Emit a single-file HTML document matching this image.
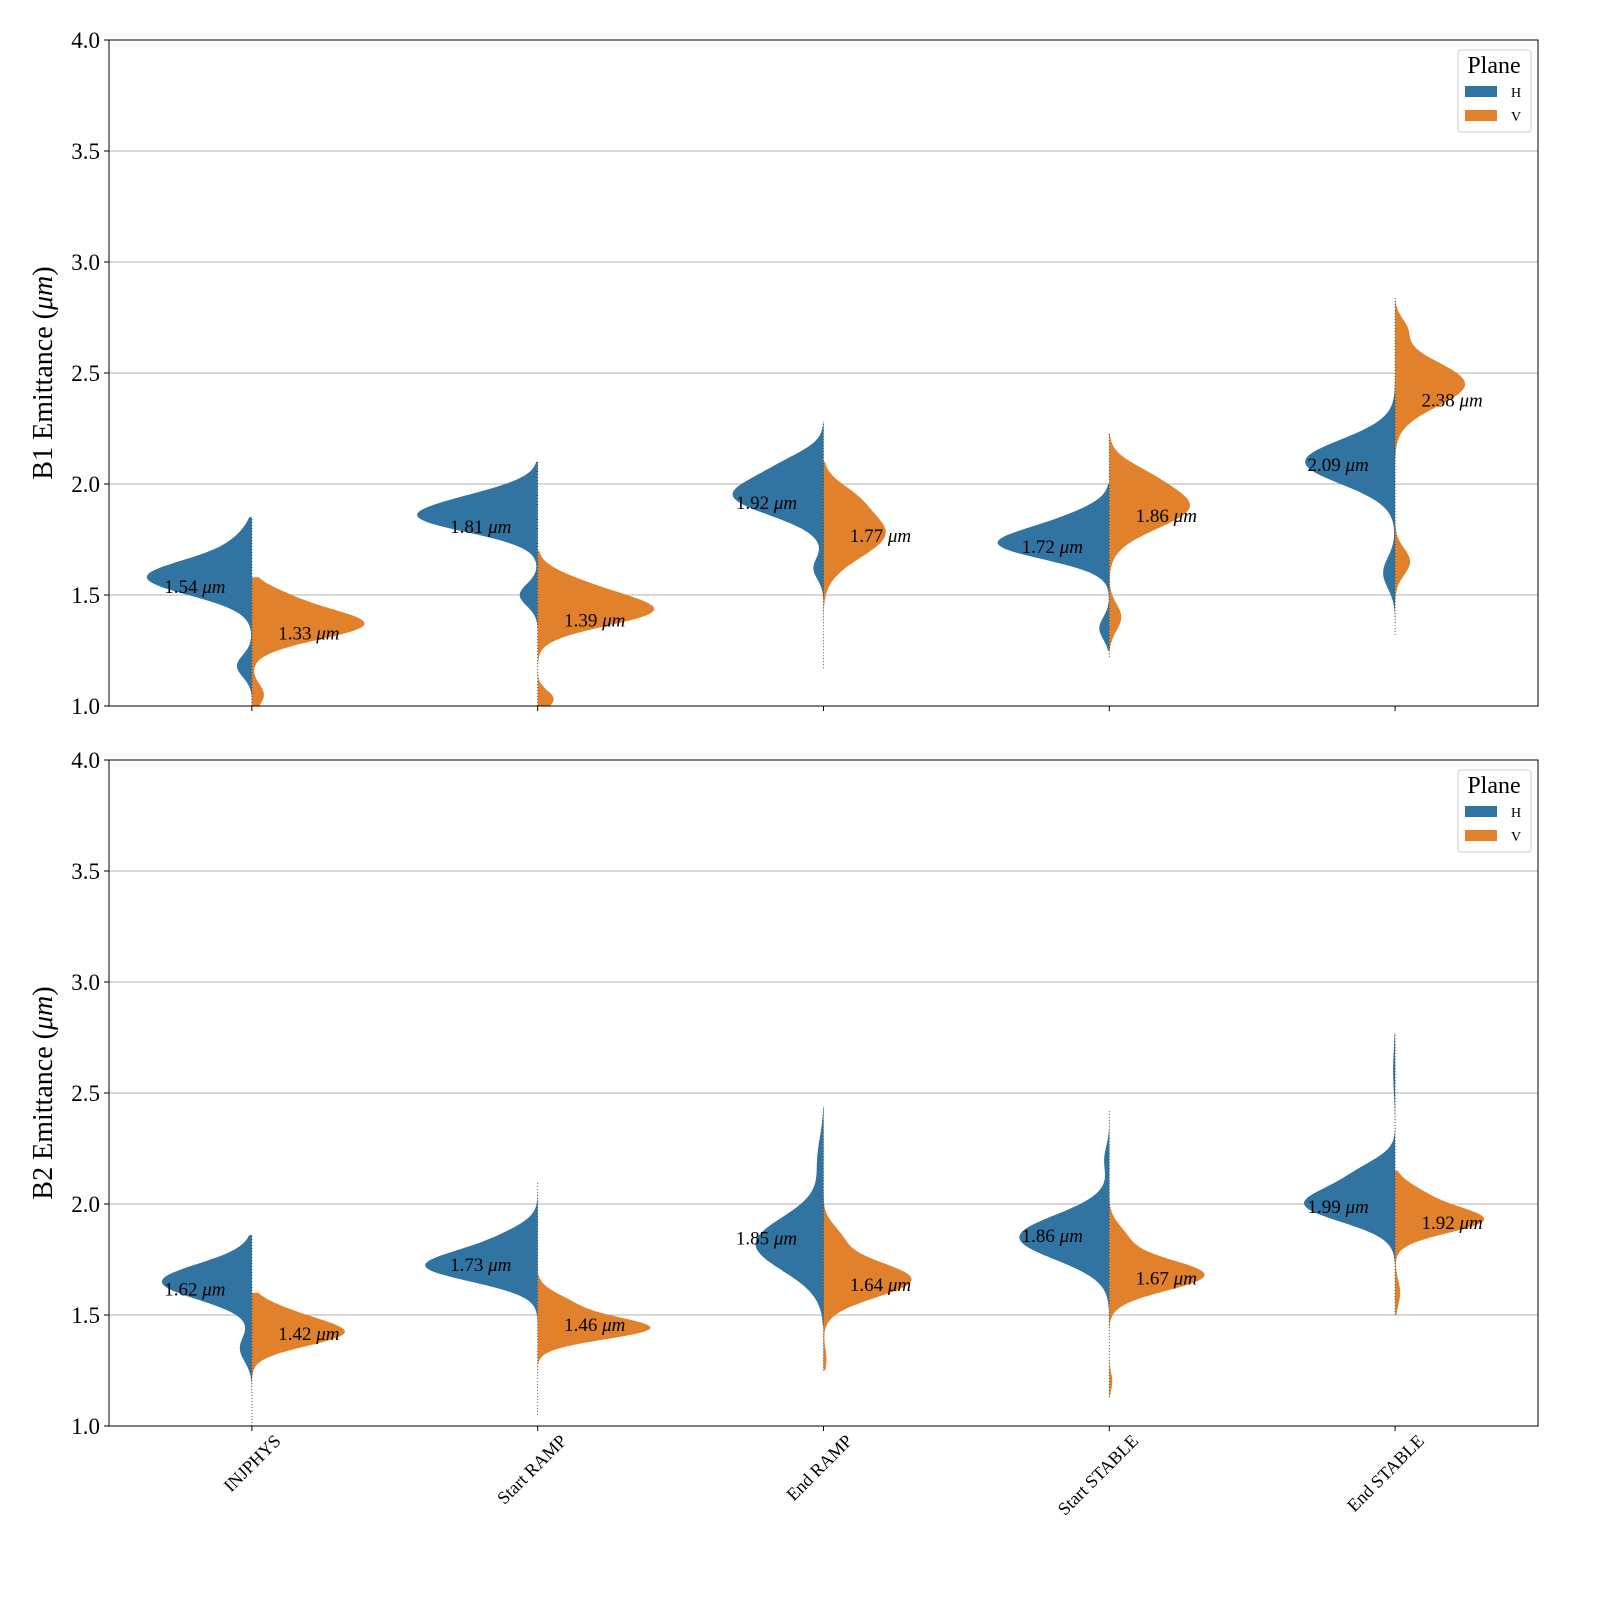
<!DOCTYPE html>
<html><head><meta charset="utf-8">
<style>
html,body{margin:0;padding:0;background:#fff;overflow:hidden;width:1600px;height:1600px;}
svg{display:block;}
svg text{font-family:"Liberation Serif","DejaVu Serif",serif;}
</style></head>
<body>
<svg id="chart" width="1600" height="1600" xmlns="http://www.w3.org/2000/svg"></svg>
<script>
const categories = ["INJPHYS","Start RAMP","End RAMP","Start STABLE","End STABLE"];
const planes = ["H","V"];
// per panel, per category: [min,max, [[mean,sd,amp],...]] for H and V
const b1H = [
 [1.0,1.85,[[1.58,0.08,105],[1.18,0.05,15],[1.75,0.06,10]]],
 [1.3,2.1,[[1.85,0.07,112],[1.95,0.06,30],[1.5,0.05,18]]],
 [1.3,2.28,[[1.95,0.09,90],[1.62,0.05,10],[2.1,0.06,20]]],
 [1.25,2.0,[[1.73,0.07,108],[1.85,0.06,25],[1.35,0.05,10]]],
 [1.32,2.65,[[2.1,0.1,90],[1.6,0.07,12]]]
];
const b1V = [
 [1.0,1.58,[[1.37,0.07,112],[1.05,0.05,12],[1.5,0.05,20]]],
 [1.0,1.7,[[1.43,0.07,112],[1.03,0.04,16],[1.55,0.06,30]]],
 [1.17,2.1,[[1.78,0.11,62],[1.95,0.06,15]]],
 [1.22,2.23,[[1.9,0.1,80],[1.4,0.06,12],[2.05,0.06,15]]],
 [1.45,2.84,[[2.45,0.1,70],[1.65,0.06,15],[2.7,0.05,10]]]
];
const b2H = [
 [1.0,1.86,[[1.65,0.08,90],[1.35,0.06,12]]],
 [1.4,2.1,[[1.72,0.07,110],[1.85,0.06,25]]],
 [1.45,2.44,[[1.82,0.12,68],[2.2,0.1,6]]],
 [1.48,2.42,[[1.85,0.1,90],[2.2,0.06,5]]],
 [1.55,2.77,[[2.0,0.08,90],[2.15,0.06,25],[2.6,0.1,2]]]
];
const b2V = [
 [1.1,1.6,[[1.42,0.06,90],[1.52,0.05,20]]],
 [1.05,1.68,[[1.44,0.05,110],[1.55,0.05,30]]],
 [1.25,2.05,[[1.66,0.08,88],[1.85,0.06,15],[1.3,0.05,3]]],
 [1.13,2.1,[[1.68,0.07,95],[1.85,0.06,15],[1.2,0.04,3]]],
 [1.5,2.15,[[1.93,0.06,88],[2.05,0.05,20],[1.6,0.06,5]]]
];
const b1HLabels = [1.54,1.81,1.92,1.72,2.09];
const b1VLabels = [1.33,1.39,1.77,1.86,2.38];
const b2HLabels = [1.62,1.73,1.85,1.86,1.99];
const b2VLabels = [1.42,1.46,1.64,1.67,1.92];
const yTicks = [1.0,1.5,2.0,2.5,3.0,3.5,4.0];

const NS="http://www.w3.org/2000/svg";
const svg=document.getElementById('chart');
function mk(tag,attrs,parent){const e=document.createElementNS(NS,tag);for(const k in attrs)e.setAttribute(k,attrs[k]);(parent||svg).appendChild(e);return e;}
const X0=109,X1=1538;
const xScale=i=>X0+(i+0.5)*(X1-X0)/5;
const COL={H:"#3274a1",V:"#e1812c"};

function panel(top,bottom,title,Hd,Vd,HL,VL,pname){
  const g=mk('g',{});
  
  
  const yS=v=>bottom-(v-1)*(bottom-top)/3;
  yTicks.forEach(t=>{
    const gl=mk('line',{x1:X0,x2:X1,y1:yS(t),y2:yS(t),stroke:'#b0b0b0','stroke-width':1},g);
    
    
    mk('line',{x1:X0-5,x2:X0,y1:yS(t),y2:yS(t),stroke:'#000'},g);
    const tl=mk('text',{x:X0-9,y:yS(t)+8,'text-anchor':'end','font-size':23},g);
    tl.textContent=t.toFixed(1);
    
    
  });
  categories.forEach((c,i)=>{
    mk('line',{x1:xScale(i),x2:xScale(i),y1:bottom,y2:bottom+5,stroke:'#000'},g);
    [['H',Hd[i],-1],['V',Vd[i],1]].forEach(([p,d,s])=>{
      const [mn,mx,comps]=d;const pts=[];const N=120;
      for(let k=0;k<=N;k++){const v=mn+(mx-mn)*k/N;let w=0;comps.forEach(([m,sd,a])=>{w+=a*Math.exp(-0.5*((v-m)/sd)**2);});
        pts.push([xScale(i)+s*w,Math.max(top,Math.min(bottom,yS(v)))]);}
      let dstr=`M${xScale(i)},${yS(mn)} `+pts.map(q=>`L${q[0].toFixed(1)},${q[1].toFixed(1)}`).join(' ')+` L${xScale(i)},${Math.max(top,yS(mx))} Z`;
      const path=mk('path',{d:dstr,fill:COL[p],stroke:'none'},g);
      
      
    });
    mk('line',{x1:xScale(i),x2:xScale(i),y1:yS(Math.min(Hd[i][0],Vd[i][0])),y2:yS(Math.max(Hd[i][1],Vd[i][1])),stroke:'#333','stroke-width':0.8,'stroke-dasharray':'1,2'},g);
    [[HL[i],-57,'H'],[VL[i],57,'V']].forEach(([v,dx,p])=>{
      const t=mk('text',{x:xScale(i)+dx,y:yS(v)+7,'text-anchor':'middle','font-size':19},g);
      t.innerHTML=v.toFixed(2)+' <tspan font-style="italic">μm</tspan>';
      
      
    });
  });
  const fr=mk('rect',{x:X0,y:top,width:X1-X0,height:bottom-top,fill:'none',stroke:'#000','stroke-width':1},g);
  
  
  const yt=mk('text',{x:0,y:0,transform:`translate(52,${(top+bottom)/2}) rotate(-90)`,'text-anchor':'middle','font-size':28},g);
  yt.innerHTML=title+' Emittance (<tspan font-style="italic">μm</tspan>)';
  
  
  const lg=mk('g',{},g);
  
  
  mk('rect',{x:1458,y:top+10,width:73,height:82,rx:3,fill:'#fff',stroke:'#ccc'},lg);
  const lt=mk('text',{x:1494,y:top+33,'text-anchor':'middle','font-size':24},lg);lt.textContent='Plane';
  planes.forEach((p,k)=>{
    const e=mk('g',{},lg);
    
    
    mk('rect',{x:1465,y:top+46+k*24,width:32,height:11,fill:COL[p]},e);
    const tx=mk('text',{x:1511,y:top+57+k*24,'font-size':14},e);tx.textContent=p;
  });
}
panel(40,706,'B1',b1H,b1V,b1HLabels,b1VLabels,'panel-b1');
panel(760,1426,'B2',b2H,b2V,b2HLabels,b2VLabels,'panel-b2');
categories.forEach((c,i)=>{
  const t=mk('text',{x:0,y:0,transform:`translate(${xScale(i)+30},${1442}) rotate(-45)`,'text-anchor':'end','font-size':18});
  t.textContent=c;
  
  
});
</script>
</body></html>
